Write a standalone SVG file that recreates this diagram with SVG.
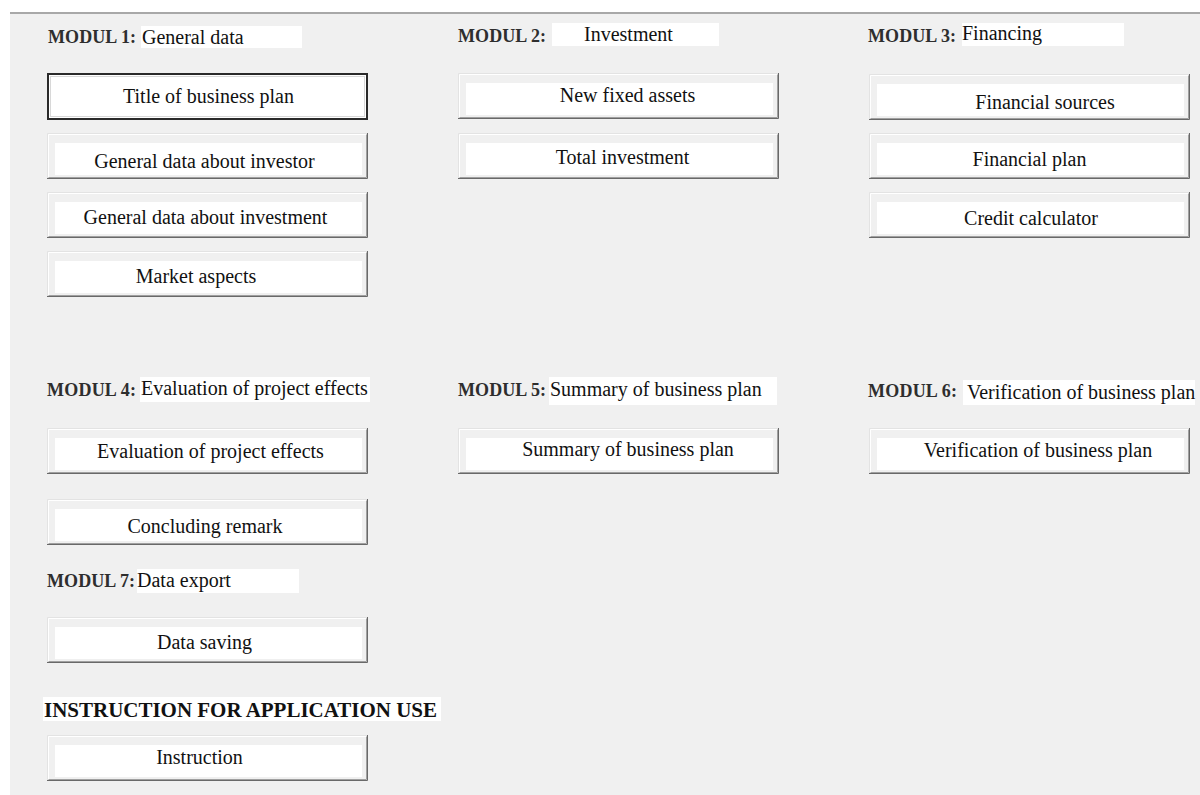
<svg xmlns="http://www.w3.org/2000/svg" xmlns:xlink="http://www.w3.org/1999/xlink" width="1200" height="795" viewBox="0 0 1200 795">
  <style>
    .mod { font-family: "Liberation Serif", "Times New Roman", serif; font-weight: bold; font-size: 18px; fill: #2e2e2e; }
    .head { font-family: "Liberation Serif", "Times New Roman", serif; font-size: 20px; fill: #111; }
    .lbl { font-family: "Liberation Serif", "Times New Roman", serif; font-size: 20px; fill: #111; text-anchor: middle; }
    .big { font-family: "Liberation Serif", "Times New Roman", serif; font-weight: bold; font-size: 21px; fill: #111; }
    .pad { fill: #ffffff; }
  </style>
  <defs>
    <!-- raised push-button frame, 321 x 46 -->
    <g id="frame">
      <rect x="0" y="0" width="321" height="46" fill="#f0f0f0"/>
      <path d="M0.5 45.5 V0.5 H320.5" fill="none" stroke="#e3e3e3"/>
      <path d="M1.5 44.5 V1.5 H319.5" fill="none" stroke="#ffffff"/>
      <path d="M1.5 44.5 H319.5 V1.5" fill="none" stroke="#a0a0a0"/>
      <path d="M0 45.5 H320.5 V0" fill="none" stroke="#696969"/>
      <rect x="8" y="10" width="307" height="32" fill="#ffffff"/>
    </g>
  </defs>

  <!-- window background -->
  <rect x="0" y="0" width="1200" height="795" fill="#ffffff"/>
  <rect x="10" y="13" width="1190" height="782" fill="#f0f0f0"/>
  <line x1="10" y1="13" x2="1200" y2="13" stroke="#a8a8a8" stroke-width="2"/>

  <!-- section headings -->
  <g id="heading-1">
    <text class="mod" x="48" y="43" textLength="88">MODUL 1:</text>
    <rect class="pad" x="141" y="26" width="161" height="22"/>
    <text class="head" x="142" y="44">General data</text>
  </g>
  <g id="heading-2">
    <text class="mod" x="458" y="42" textLength="88">MODUL 2:</text>
    <rect class="pad" x="552" y="23" width="167" height="23"/>
    <text class="head" x="584" y="41">Investment</text>
  </g>
  <g id="heading-3">
    <text class="mod" x="868" y="42" textLength="88">MODUL 3:</text>
    <rect class="pad" x="962" y="23" width="162" height="23"/>
    <text class="head" x="962" y="40">Financing</text>
  </g>
  <g id="heading-4">
    <text class="mod" x="47" y="396" textLength="89">MODUL 4:</text>
    <rect class="pad" x="140" y="377" width="230" height="25"/>
    <text class="head" x="141" y="395">Evaluation of project effects</text>
  </g>
  <g id="heading-5">
    <text class="mod" x="458" y="396" textLength="88">MODUL 5:</text>
    <rect class="pad" x="549" y="377" width="228" height="28"/>
    <text class="head" x="550" y="396">Summary of business plan</text>
  </g>
  <g id="heading-6">
    <text class="mod" x="868" y="397" textLength="89">MODUL 6:</text>
    <rect class="pad" x="963" y="380" width="232" height="25"/>
    <text class="head" x="967" y="399">Verification of business plan</text>
  </g>
  <g id="heading-7">
    <text class="mod" x="47" y="587" textLength="88">MODUL 7:</text>
    <rect class="pad" x="137" y="569" width="162" height="24"/>
    <text class="head" x="137" y="587">Data export</text>
  </g>
  <g id="heading-instr">
    <rect class="pad" x="43" y="697" width="398" height="24"/>
    <text class="big" x="44" y="717" textLength="393">INSTRUCTION FOR APPLICATION USE</text>
  </g>

  <!-- module 1 buttons -->
  <g id="btn-title">
    <rect x="47" y="73" width="321" height="47" fill="#ffffff"/>
    <rect x="48" y="74" width="319" height="45" fill="none" stroke="#2a2a2a" stroke-width="2"/>
    <rect x="50.5" y="76.5" width="314" height="40" fill="none" stroke="#d8d8d8"/>
    <text class="lbl" x="208.5" y="103">Title of business plan</text>
  </g>
  <g id="btn-investor">
    <use xlink:href="#frame" x="47" y="133"/>
    <text class="lbl" x="204.5" y="168">General data about investor</text>
  </g>
  <g id="btn-investment-data">
    <use xlink:href="#frame" x="47" y="192"/>
    <text class="lbl" x="205.5" y="224">General data about investment</text>
  </g>
  <g id="btn-market">
    <use xlink:href="#frame" x="47" y="251"/>
    <text class="lbl" x="196" y="283">Market aspects</text>
  </g>

  <!-- module 2 buttons -->
  <g id="btn-fixed-assets">
    <use xlink:href="#frame" x="458" y="73"/>
    <text class="lbl" x="627.5" y="102">New fixed assets</text>
  </g>
  <g id="btn-total-investment">
    <use xlink:href="#frame" x="458" y="133"/>
    <text class="lbl" x="622.5" y="164">Total investment</text>
  </g>

  <!-- module 3 buttons -->
  <g id="btn-sources">
    <use xlink:href="#frame" x="869" y="74"/>
    <text class="lbl" x="1045" y="109">Financial sources</text>
  </g>
  <g id="btn-fin-plan">
    <use xlink:href="#frame" x="869" y="133"/>
    <text class="lbl" x="1029.5" y="166">Financial plan</text>
  </g>
  <g id="btn-credit">
    <use xlink:href="#frame" x="869" y="192"/>
    <text class="lbl" x="1031" y="225">Credit calculator</text>
  </g>

  <!-- module 4 buttons -->
  <g id="btn-evaluation">
    <use xlink:href="#frame" x="47" y="428"/>
    <text class="lbl" x="210.5" y="458">Evaluation of project effects</text>
  </g>
  <g id="btn-concluding">
    <use xlink:href="#frame" x="47" y="499"/>
    <text class="lbl" x="205" y="533">Concluding remark</text>
  </g>

  <!-- module 5 button -->
  <g id="btn-summary">
    <use xlink:href="#frame" x="458" y="428"/>
    <text class="lbl" x="628" y="456">Summary of business plan</text>
  </g>

  <!-- module 6 button -->
  <g id="btn-verification">
    <use xlink:href="#frame" x="869" y="428"/>
    <text class="lbl" x="1038" y="457">Verification of business plan</text>
  </g>

  <!-- module 7 button -->
  <g id="btn-saving">
    <use xlink:href="#frame" x="47" y="617"/>
    <text class="lbl" x="204.5" y="649">Data saving</text>
  </g>

  <!-- instructions button -->
  <g id="btn-instruction">
    <use xlink:href="#frame" x="47" y="735"/>
    <text class="lbl" x="199.5" y="764">Instruction</text>
  </g>

  <!-- no connectors in this layout -->
  <g id="connectors"/>
</svg>
